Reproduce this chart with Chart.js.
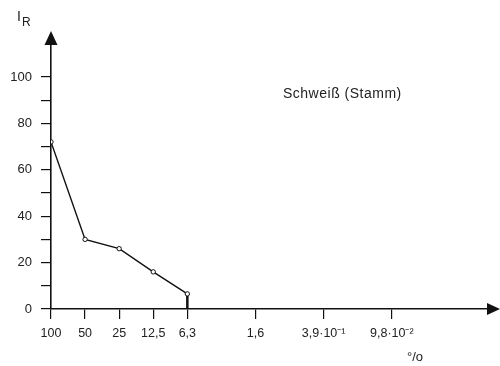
<!DOCTYPE html>
<html>
<head>
<meta charset="utf-8">
<script src="https://cdn.jsdelivr.net/npm/chart.js@4/dist/chart.umd.min.js"></script>
<style>
  html, body { margin: 0; padding: 0; background: #fff; }
  #wrap { width: 500px; height: 366px; }
</style>
</head>
<body>
<div id="wrap"><canvas id="c" width="500" height="366"></canvas></div>
<script>
// Dilution series (percent), each step halves the concentration
const concentrations = [100, 50, 25, 12.5, 6.25, 1.5625, 0.390625, 0.09765625];
const concentrationLabels = ['100', '50', '25', '12,5', '6,3', '1,6', '3,9·10⁻¹', '9,8·10⁻²'];

// Measured I_R for Schweiß (Stamm)
const measuredConc = [100, 50, 25, 12.5, 6.25];
const measuredIR = [72, 30, 26, 16, 6.5];

// Y axis ticks
const yTicks = [0, 10, 20, 30, 40, 50, 60, 70, 80, 90, 100];
const yLabelled = [0, 20, 40, 60, 80, 100];

const ink = '#111';
const fontFamily = '"Liberation Sans", Arial, Helvetica, sans-serif';

const seriesPoints = measuredConc.map((c, i) => ({ x: c, y: measuredIR[i] }));
const lastIdx = measuredConc.length - 1;
const dropLine = [
  { x: measuredConc[lastIdx], y: measuredIR[lastIdx] },
  { x: measuredConc[lastIdx], y: 0 }
];

const decorations = {
  id: 'decorations',
  afterDraw(chart) {
    const ctx = chart.ctx;
    const a = chart.chartArea;
    const y0 = chart.scales.y.getPixelForValue(0);
    ctx.save();
    ctx.fillStyle = ink;
    // arrow on the y axis
    ctx.beginPath();
    ctx.moveTo(a.left, 31);
    ctx.lineTo(a.left - 6.5, 45);
    ctx.lineTo(a.left + 6.5, 45);
    ctx.closePath();
    ctx.fill();
    // arrow on the x axis
    ctx.beginPath();
    ctx.moveTo(500, y0);
    ctx.lineTo(487, y0 - 6);
    ctx.lineTo(487, y0 + 6);
    ctx.closePath();
    ctx.fill();
    // axis symbol I_R
    ctx.fillStyle = '#222';
    ctx.textBaseline = 'alphabetic';
    ctx.textAlign = 'left';
    ctx.font = '14px ' + fontFamily;
    ctx.fillText('I', 17, 21);
    ctx.font = '12px ' + fontFamily;
    ctx.fillText('R', 22, 26);
    // series name
    ctx.font = '14px ' + fontFamily;
    if ('letterSpacing' in ctx) ctx.letterSpacing = '0.5px';
    ctx.fillText('Schweiß (Stamm)', 283, 98);
    if ('letterSpacing' in ctx) ctx.letterSpacing = '0px';
    // unit
    ctx.font = '13px ' + fontFamily;
    ctx.fillText('°/o', 407, 361);
    ctx.restore();
  }
};

new Chart(document.getElementById('c'), {
  type: 'scatter',
  data: {
    datasets: [
      {
        data: seriesPoints,
        showLine: true,
        borderColor: ink,
        borderWidth: 1.4,
        pointRadius: 2.2,
        pointBorderWidth: 1,
        pointBackgroundColor: '#fff',
        pointBorderColor: ink,
        tension: 0
      },
      {
        data: dropLine,
        showLine: true,
        borderColor: ink,
        borderWidth: 2.5,
        pointRadius: 0,
        tension: 0
      }
    ]
  },
  options: {
    responsive: false,
    animation: false,
    events: [],
    layout: { padding: { top: 40, right: 10, left: 0, bottom: 0 } },
    plugins: { legend: { display: false }, tooltip: { enabled: false } },
    scales: {
      x: {
        type: 'logarithmic',
        reverse: true,
        min: 100 / Math.pow(2, 12.88),
        max: 100,
        afterFit(scale) { scale.height = 57; },
        afterBuildTicks(scale) { scale.ticks = concentrations.map(v => ({ value: v })); },
        border: { display: true, color: ink, width: 1.6 },
        grid: { drawOnChartArea: false, drawTicks: true, tickLength: 10, color: ink, lineWidth: 1.2 },
        ticks: {
          autoSkip: false,
          maxRotation: 0,
          padding: 7,
          color: '#222',
          font: { family: fontFamily, size: 12.5 },
          callback(value, index) { return concentrationLabels[index]; }
        }
      },
      y: {
        type: 'linear',
        min: 0,
        max: (309.5 - 40) / 2.325,
        afterFit(scale) { scale.width = 51; },
        afterBuildTicks(scale) { scale.ticks = yTicks.map(v => ({ value: v })); },
        border: { display: true, color: ink, width: 1.6 },
        grid: { drawOnChartArea: false, drawTicks: true, tickLength: 10, color: ink, lineWidth: 1.2 },
        ticks: {
          padding: 9,
          color: '#222',
          font: { family: fontFamily, size: 13 },
          callback(value) { return yLabelled.includes(value) ? String(value) : ''; }
        }
      }
    }
  },
  plugins: [decorations]
});
</script>
</body>
</html>
